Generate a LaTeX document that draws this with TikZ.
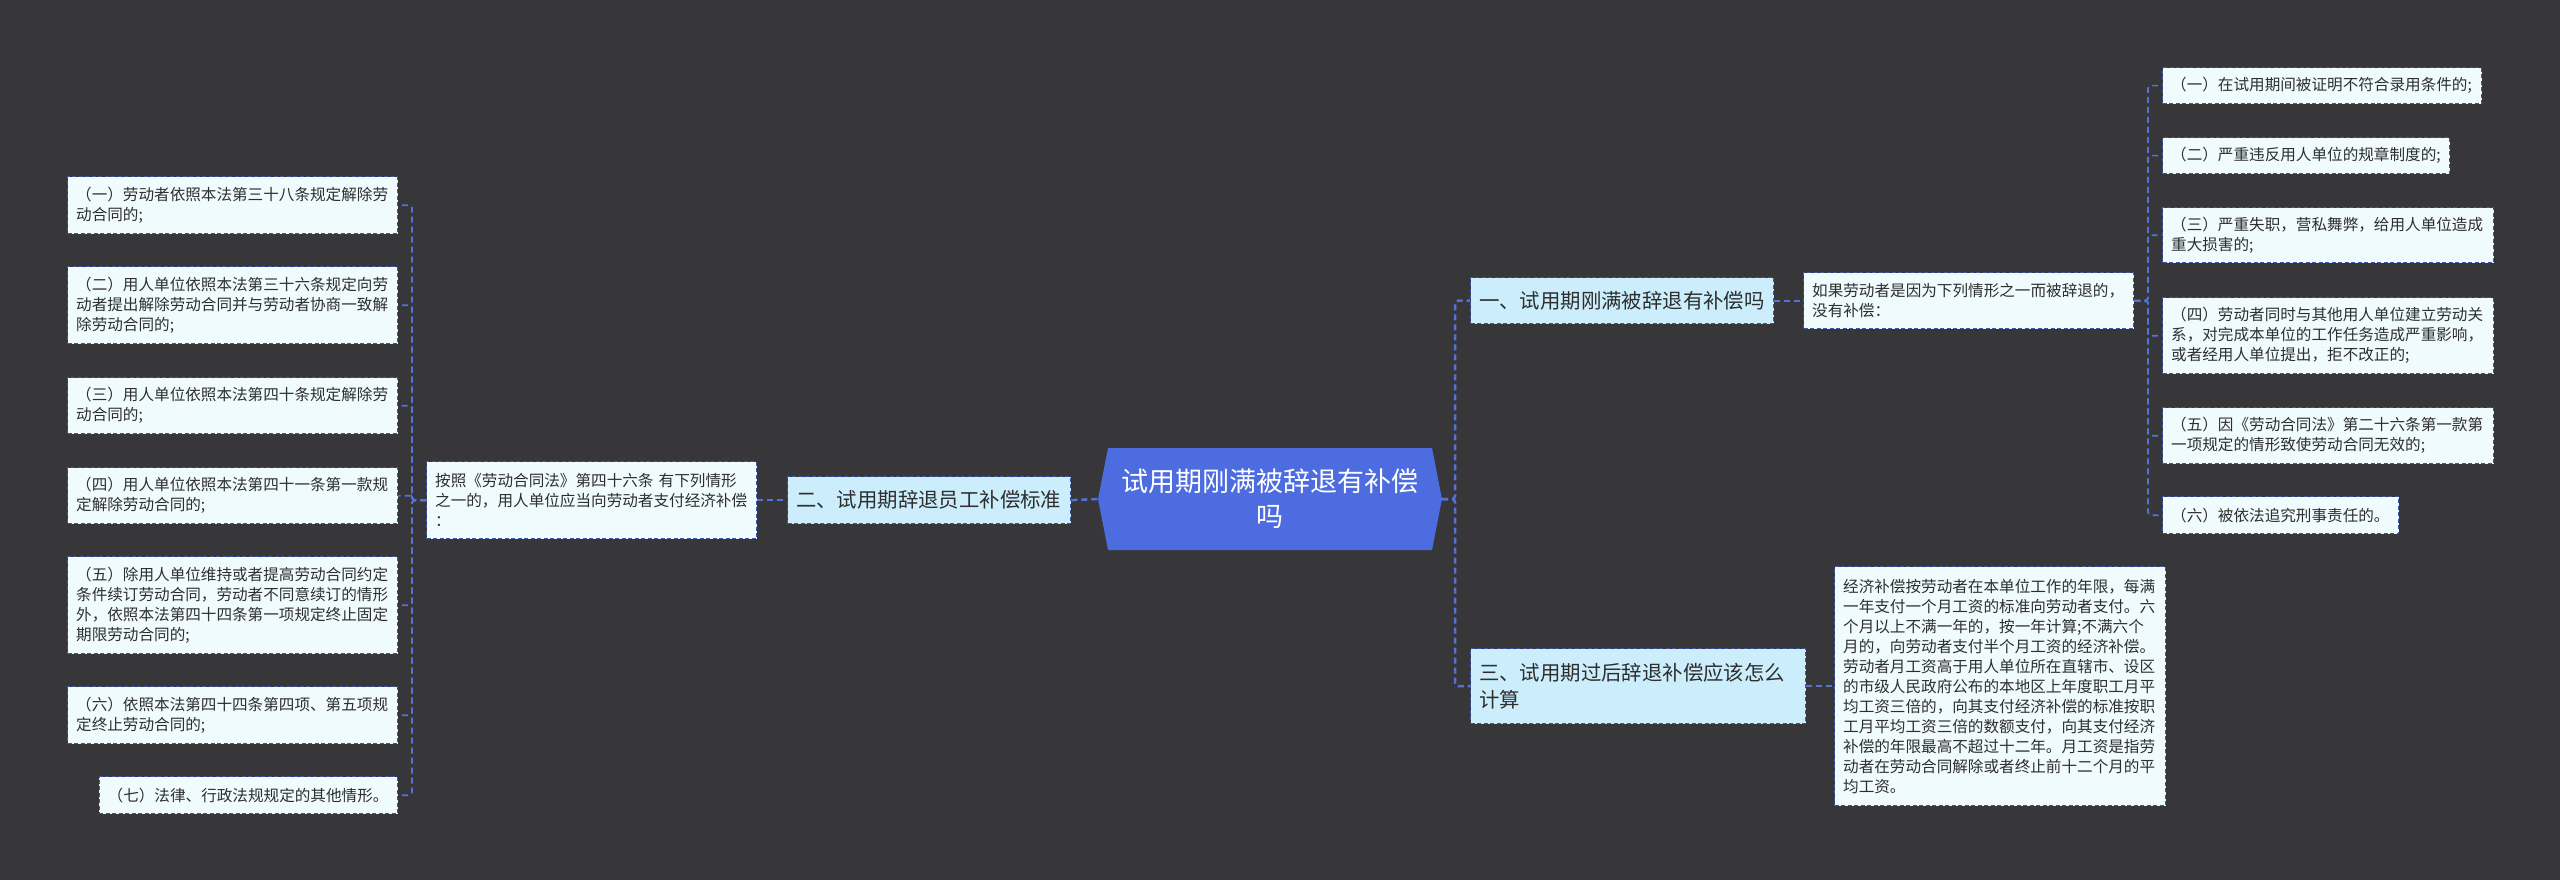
\documentclass[tikz,border=0pt]{standalone}
\usepackage{fontspec}
\setmainfont{Noto Sans CJK SC}
\definecolor{bg}{HTML}{373638}
\definecolor{mainblue}{HTML}{4C6CE0}
\definecolor{lineblue}{HTML}{5572D8}
\definecolor{boxborder}{HTML}{3D56AA}
\definecolor{lvfill}{HTML}{CCEEFC}
\definecolor{leaffill}{HTML}{F0FBFE}
\definecolor{txt}{HTML}{2E2E2E}
\tikzset{
 box/.style={draw=boxborder, line width=1.3pt, dash pattern=on 4pt off 2.5pt, anchor=north west, inner xsep=8.5pt, inner ysep=0pt, align=left, text=txt},
 leaf/.style={box, fill=leaffill, font=\fontsize{15.6pt}{20pt}\selectfont},
 lvone/.style={box, fill=lvfill, font=\fontsize{20.4pt}{27pt}\selectfont},
 conn/.style={draw=lineblue, line width=1.7pt, dash pattern=on 6pt off 4pt, rounded corners=3pt},
 mainconn/.style={draw=lineblue, line width=2.5pt, dash pattern=on 6pt off 4pt, rounded corners=3pt},
 centernode/.style={text=white, align=center, inner sep=0pt, font=\fontsize{27pt}{35pt}\selectfont},
}
\newcommand{\bx}[7]{\pgfmathsetmacro\bxtw{#5-17}\node[#1, minimum width=#5pt, minimum height=#6pt, text width=\bxtw pt] (#2) at (#3,#4) {#7};}
\begin{document}
\begin{tikzpicture}[x=1pt,y=-1pt]
\useasboundingbox (0,0) rectangle (2560,880);
\fill[bg] (0,0) rectangle (2560,880);
% center
\fill[mainblue] (1098,499) -- (1108,448) -- (1432,448) -- (1442,499) -- (1432,550) -- (1108,550) -- cycle;
\node[centernode, minimum width=344pt, minimum height=102pt] (C) at (1270,499) {试用期刚满被辞退有补偿\\吗};
% left leaves
\bx{leaf}{L1}{67}{176}{330}{57}{（一）劳动者依照本法第三十八条规定解除劳\\动合同的;}
\bx{leaf}{L2}{67}{266}{330}{77}{（二）用人单位依照本法第三十六条规定向劳\\动者提出解除劳动合同并与劳动者协商一致解\\除劳动合同的;}
\bx{leaf}{L3}{67}{377}{330}{56}{（三）用人单位依照本法第四十条规定解除劳\\动合同的;}
\bx{leaf}{L4}{67}{467}{330}{56}{（四）用人单位依照本法第四十一条第一款规\\定解除劳动合同的;}
\bx{leaf}{L5}{67}{556}{330}{97}{（五）除用人单位维持或者提高劳动合同约定\\条件续订劳动合同，劳动者不同意续订的情形\\外，依照本法第四十四条第一项规定终止固定\\期限劳动合同的;}
\bx{leaf}{L6}{67}{686}{330}{57}{（六）依照本法第四十四条第四项、第五项规\\定终止劳动合同的;}
\bx{leaf}{L7}{98.5}{776}{298.5}{37}{（七）法律、行政法规规定的其他情形。}
\bx{leaf}{M}{426}{461}{330}{77}{按照《劳动合同法》第四十六条~有下列情形\\之一的，用人单位应当向劳动者支付经济补偿\\：}
\bx{lvone}{N2}{787}{476}{283}{47}{二、试用期辞退员工补偿标准}
% right
\bx{lvone}{N1}{1470}{277}{303}{46}{一、试用期刚满被辞退有补偿吗}
\bx{leaf}{R0}{1803}{272}{330}{56}{如果劳动者是因为下列情形之一而被辞退的，\\没有补偿：}
\bx{leaf}{R1}{2162}{67}{319}{36}{（一）在试用期间被证明不符合录用条件的;}
\bx{leaf}{R2}{2162}{137}{287}{36}{（二）严重违反用人单位的规章制度的;}
\bx{leaf}{R3}{2162}{207}{331}{55}{（三）严重失职，营私舞弊，给用人单位造成\\重大损害的;}
\bx{leaf}{R4}{2162}{297}{331}{76}{（四）劳动者同时与其他用人单位建立劳动关\\系，对完成本单位的工作任务造成严重影响，\\或者经用人单位提出，拒不改正的;}
\bx{leaf}{R5}{2162}{407}{331}{56}{（五）因《劳动合同法》第二十六条第一款第\\一项规定的情形致使劳动合同无效的;}
\bx{leaf}{R6}{2162}{496}{236}{37}{（六）被依法追究刑事责任的。}
\bx{lvone}{N3}{1470}{648}{335}{75}{三、试用期过后辞退补偿应该怎么\\计算}
\bx{leaf}{B}{1834}{566}{331}{239}{经济补偿按劳动者在本单位工作的年限，每满\\一年支付一个月工资的标准向劳动者支付。六\\个月以上不满一年的，按一年计算;不满六个\\月的，向劳动者支付半个月工资的经济补偿。\\劳动者月工资高于用人单位所在直辖市、设区\\的市级人民政府公布的本地区上年度职工月平\\均工资三倍的，向其支付经济补偿的标准按职\\工月平均工资三倍的数额支付，向其支付经济\\补偿的年限最高不超过十二年。月工资是指劳\\动者在劳动合同解除或者终止前十二个月的平\\均工资。}
% bracket coordinates
\coordinate (bxL) at (412,0);
\coordinate (bxC) at (1455,0);
\coordinate (bxR) at (2148,0);
% connectors left
\foreach \n in {L1,L2,L3,L4,L5,L6,L7}{\draw[conn] (M.west) -- (bxL |- M.west) |- (\n.east);}
\draw[conn] (M.east) -- (N2.west);
\draw[mainconn] (N2.east) -- (C.west);
% connectors right
\foreach \n in {N1,N3}{\draw[mainconn] (C.east) -- (bxC |- C.east) |- (\n.west);}
\draw[conn] (N1.east) -- (R0.west);
\foreach \n in {R1,R2,R3,R4,R5,R6}{\draw[conn] (R0.east) -- (bxR |- R0.east) |- (\n.west);}
\draw[conn] (N3.east) -- (B.west);
\end{tikzpicture}
\end{document}
